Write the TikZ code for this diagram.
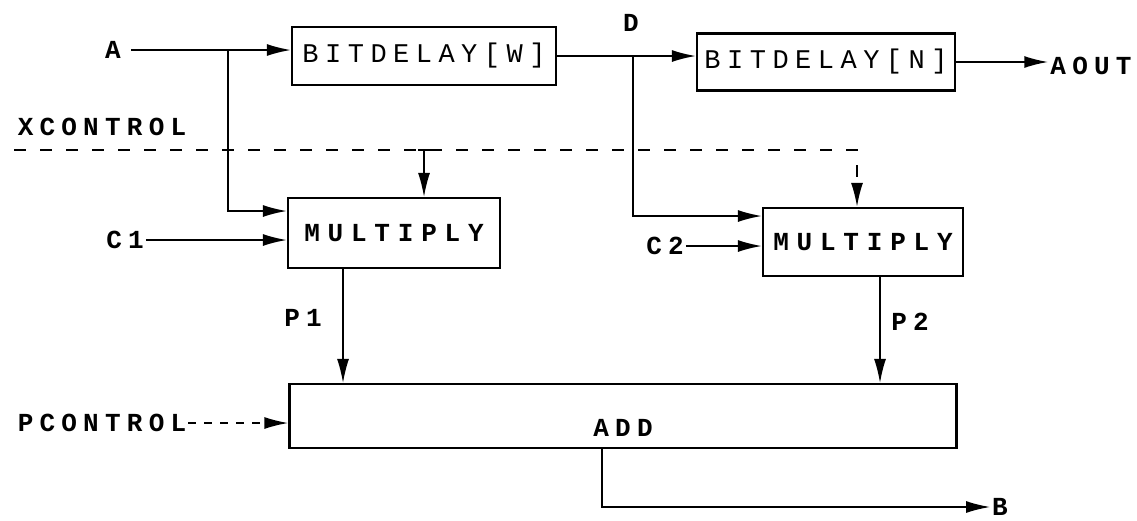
\documentclass[tikz,border=0pt]{standalone}
\usepackage{fontspec}
\newfontfamily\dm[LetterSpace=24]{Liberation Mono}
\newfontfamily\dmw[LetterSpace=30]{Liberation Mono}
\usetikzlibrary{arrows.meta}
\begin{document}
\begin{tikzpicture}[x=1pt,y=-1pt,
  box/.style={draw,line width=2.2pt,inner sep=0pt,font=\dm\fontsize{27}{27}\selectfont},
  bbox/.style={box,font=\dmw\bfseries\fontsize{26}{26}\selectfont},
  lbl/.style={inner sep=2pt,font=\dm\bfseries\fontsize{26}{26}\selectfont},
  tip/.style={-{Latex[length=24pt,width=12pt]}},
  arr/.style={line width=1.8pt,tip},
  dsh/.style={line width=1.8pt,dash pattern=on 12pt off 14pt}]
\useasboundingbox (0,0) rectangle (1137,520);
% boxes
\node[box,minimum width=264pt,minimum height=58pt] (bw) at (424,56) {BITDELAY[W]};
\node[box,minimum width=258pt,minimum height=57pt] (bn) at (826,62) {BITDELAY[N]};
\node[bbox,minimum width=212pt,minimum height=70pt] (m1) at (394,233) {MULTIPLY};
\node[bbox,minimum width=200pt,minimum height=68pt] (m2) at (863,242) {MULTIPLY};
\node[bbox,minimum width=667pt,minimum height=64pt,
      label={[lbl,yshift=-12pt]center:ADD}] (add) at (623,416) {};
% labels
\node[lbl] (A) at (113,50) {A};
\node[lbl] (D) at (631,23) {D};
\node[lbl] (AOUT) at (1091,66) {AOUT};
\node[lbl] (XC) at (102,127) {XCONTROL};
\node[lbl] (C1) at (125,240) {C1};
\node[lbl] (C2) at (665,246) {C2};
\node[lbl] (P1) at (303,318) {P1};
\node[lbl] (P2) at (910,322) {P2};
\node[lbl] (PC) at (102,423) {PCONTROL};
\node[lbl] (B) at (1000,507) {B};
% junctions
\coordinate (ja) at (228,50);
\coordinate (jd) at (633,56);
\coordinate (xs) at (14,150);
\coordinate (jx) at (424,150);
% connectors
\draw[arr] ([xshift=8pt]A.east) -- (A.east -| bw.west);
\draw[arr] (ja) |- ([yshift=22pt]m1.west);
\draw[arr] (C1.east) -- (C1.east -| m1.west);
\draw[arr] (bw.east) -- (bw.east -| bn.west);
\draw[arr] (jd) |- ([yshift=26pt]m2.west);
\draw[arr] (C2.east) -- (C2.east -| m2.west);
\draw[arr] (bn.east) -- (bn.east -| AOUT.west);
\draw[dsh,tip] (xs) -| ([xshift=-6pt]m2.north);
\draw[arr,line width=1.4pt] (jx) -- (jx |- m1.north);
\draw[line width=1.6pt] ([xshift=-6pt]jx) -- ([xshift=6pt]jx);
\draw[arr,line width=1.4pt] ([xshift=-51pt]m1.south) -- ([xshift=-51pt]m1.south |- add.north);
\draw[arr,line width=1.4pt] ([xshift=17pt]m2.south) -- ([xshift=17pt]m2.south |- add.north);
\draw[arr,dash pattern=on 8pt off 8pt] (PC.east) -- (PC.east -| add.west);
\draw[arr,line width=1.4pt] ([xshift=-21pt]add.south) |- (B.west);
\end{tikzpicture}
\end{document}
